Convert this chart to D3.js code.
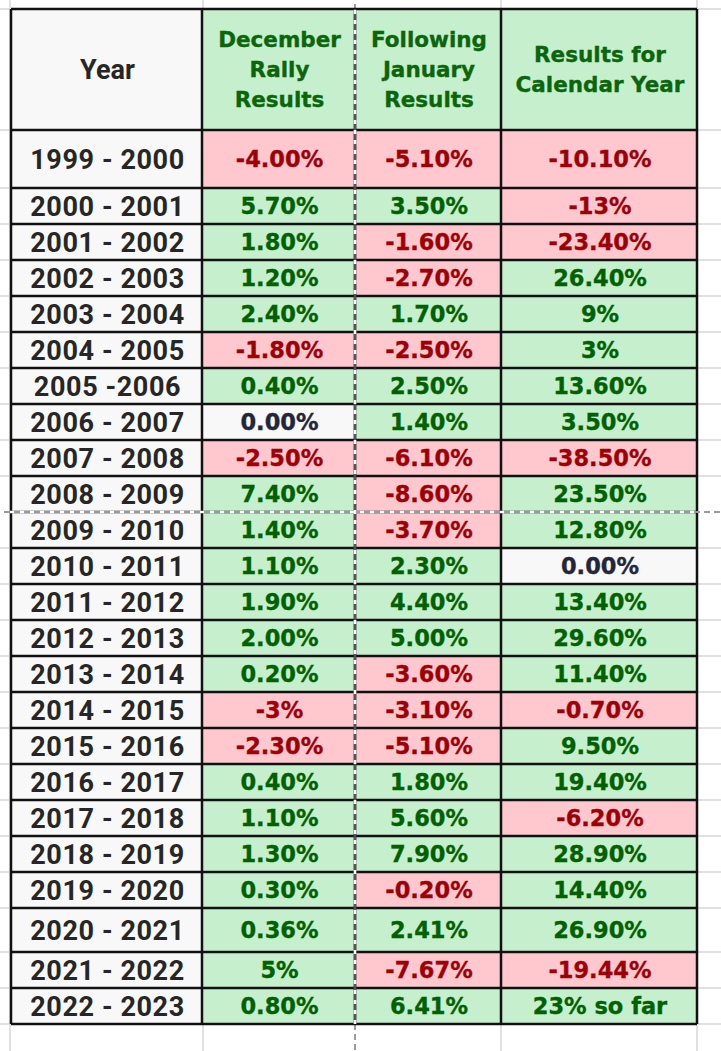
<!DOCTYPE html>
<html>
<head>
<meta charset="utf-8">
<script src="https://cdn.jsdelivr.net/npm/d3@7"></script>
<style>
  html, body { margin: 0; padding: 0; background: #fff; }
  svg { display: block; }
</style>
</head>
<body>
<div id="sheet"></div>
<script>
var years = ["1999 - 2000", "2000 - 2001", "2001 - 2002", "2002 - 2003", "2003 - 2004", "2004 - 2005",
  "2005 -2006", "2006 - 2007", "2007 - 2008", "2008 - 2009", "2009 - 2010", "2010 - 2011",
  "2011 - 2012", "2012 - 2013", "2013 - 2014", "2014 - 2015", "2015 - 2016", "2016 - 2017",
  "2017 - 2018", "2018 - 2019", "2019 - 2020", "2020 - 2021", "2021 - 2022", "2022 - 2023"]
var december = ["-4.00%", "5.70%", "1.80%", "1.20%", "2.40%", "-1.80%", "0.40%", "0.00%", "-2.50%", "7.40%",
  "1.40%", "1.10%", "1.90%", "2.00%", "0.20%", "-3%", "-2.30%", "0.40%", "1.10%", "1.30%",
  "0.30%", "0.36%", "5%", "0.80%"]
var january = ["-5.10%", "3.50%", "-1.60%", "-2.70%", "1.70%", "-2.50%", "2.50%", "1.40%", "-6.10%", "-8.60%",
  "-3.70%", "2.30%", "4.40%", "5.00%", "-3.60%", "-3.10%", "-5.10%", "1.80%", "5.60%", "7.90%",
  "-0.20%", "2.41%", "-7.67%", "6.41%"]
var calendar = ["-10.10%", "-13%", "-23.40%", "26.40%", "9%", "3%", "13.60%", "3.50%", "-38.50%", "23.50%",
  "12.80%", "0.00%", "13.40%", "29.60%", "11.40%", "-0.70%", "9.50%", "19.40%", "-6.20%", "28.90%",
  "14.40%", "26.90%", "-19.44%", "23% so far"]
var headers = [["Year"], ["December", "Rally", "Results"], ["Following", "January", "Results"], ["Results for", "Calendar Year"]]

var W = 721, H = 1051
var colEdges = [11, 202, 355, 501, 697]
var headTop = 9, headBottom = 130
var pageBreakX = 355, pageBreakY = 512

// the first row and the 2020 row are taller in the sheet
var heights = years.map(function(y, i) { return i == 0 ? 58 : (y == "2020 - 2021" ? 44 : 36) })
var tops = []
heights.reduce(function(acc, h) { tops.push(acc); return acc + h }, headBottom)
var tableBottom = tops[tops.length - 1] + heights[heights.length - 1]

var yTop = d3.scaleOrdinal().domain(years).range(tops)
var yH = d3.scaleOrdinal().domain(years).range(heights)
var cols = ["year", "dec", "jan", "cal"]
var xL = d3.scaleOrdinal().domain(cols).range(colEdges.slice(0, 4))
var xR = d3.scaleOrdinal().domain(cols).range(colEdges.slice(1))

var fills = {pos: "#c6efce", neg: "#ffc7ce", zero: "#f8f8f8"}
var inks = {pos: "#006100", neg: "#9c0006", zero: "#23263a"}
function tone(v) {
  var n = parseFloat(v)
  return n < 0 ? "neg" : (n > 0 ? "pos" : "zero")
}

var svg = d3.select("#sheet").append("svg").attr("width", W).attr("height", H)
svg.append("rect").attr("width", W).attr("height", H).attr("fill", "#fff")

// spreadsheet gridlines behind the table
var grid = svg.append("g").attr("stroke", "#e1e1e1").attr("stroke-width", 2)
var rowEdges = [headTop, headBottom].concat(tops.slice(1), [tableBottom])
grid.selectAll("line.h").data(rowEdges).enter().append("line")
  .attr("x1", 0).attr("x2", W).attr("y1", function(d) { return d }).attr("y2", function(d) { return d })
grid.selectAll("line.v").data([10, 203, 501, 697]).enter().append("line")
  .attr("y1", 0).attr("y2", H).attr("x1", function(d) { return d }).attr("x2", function(d) { return d })
svg.append("line").attr("x1", pageBreakX).attr("x2", pageBreakX).attr("y1", 0).attr("y2", H)
  .attr("stroke", "#9a9a9a").attr("stroke-width", 2)

// header cells
svg.selectAll("rect.head").data(cols).enter().append("rect")
  .attr("x", function(d) { return xL(d) }).attr("width", function(d) { return xR(d) - xL(d) })
  .attr("y", headTop).attr("height", headBottom - headTop)
  .attr("fill", function(d) { return d == "year" ? "#f8f8f8" : "#c6efce" })

var rows = years.map(function(y, i) {
  return {year: y, dec: december[i], jan: january[i], cal: calendar[i]}
})

var rowG = svg.selectAll("g.row").data(rows).enter().append("g").attr("class", "row")
rowG.each(function(r) {
  var g = d3.select(this)
  var top = yTop(r.year), h = yH(r.year)
  cols.forEach(function(c) {
    var t = c == "year" ? "zero" : tone(r[c])
    var ink = c == "year" ? "#262626" : inks[t]
    g.append("rect")
      .attr("x", xL(c)).attr("width", xR(c) - xL(c))
      .attr("y", top).attr("height", h)
      .attr("fill", fills[t])
    g.append("text")
      .attr("x", (xL(c) + xR(c)) / 2 + 1)
      .attr("y", top + h / 2)
      .attr("dy", c == "year" ? "0.36em" : "0.37em")
      .attr("text-anchor", "middle")
      .style("font-family", c == "year" ? "Roboto, sans-serif" : "'DejaVu Sans', Verdana, sans-serif")
      .style("font-weight", 700)
      .style("font-size", c == "year" ? "27px" : "22.5px")
      .style("letter-spacing", c == "year" ? "0.6px" : "0px")
      .attr("fill", ink)
      .attr("stroke", c == "year" ? "none" : ink).attr("stroke-width", 0.35)
      .text(r[c])
  })
})

// header labels
headers.forEach(function(lines, i) {
  var c = cols[i]
  var mid = (headTop + headBottom) / 2
  var step = 30
  lines.forEach(function(line, j) {
    svg.append("text")
      .attr("x", (xL(c) + xR(c)) / 2 + 1)
      .attr("y", mid + (j - (lines.length - 1) / 2) * step)
      .attr("dy", "0.36em")
      .attr("text-anchor", "middle")
      .style("font-family", c == "year" ? "Roboto, sans-serif" : "'DejaVu Sans', Verdana, sans-serif")
      .style("font-weight", 700)
      .style("font-size", c == "year" ? "27px" : "21.5px")
      .attr("fill", c == "year" ? "#262626" : "#0b650b")
      .attr("stroke", c == "year" ? "none" : "#0b650b").attr("stroke-width", 0.35)
      .text(line)
  })
})

// table borders
var borders = svg.append("g").attr("stroke", "#111").attr("stroke-width", 2.5)
borders.selectAll("line.h").data(rowEdges).enter().append("line")
  .attr("x1", colEdges[0]).attr("x2", colEdges[4])
  .attr("y1", function(d) { return d }).attr("y2", function(d) { return d })
borders.selectAll("line.v").data(colEdges).enter().append("line")
  .attr("y1", headTop).attr("y2", tableBottom)
  .attr("x1", function(d) { return d }).attr("x2", function(d) { return d })

// page breaks
svg.append("line").attr("x1", 0).attr("x2", W).attr("y1", pageBreakY).attr("y2", pageBreakY)
  .attr("stroke", "#9a9a9a").attr("stroke-width", 2)
svg.append("line").attr("x1", pageBreakX).attr("x2", pageBreakX).attr("y1", headTop).attr("y2", tableBottom)
  .attr("stroke", "#555").attr("stroke-width", 2.5)
var breaks = svg.append("g").attr("stroke", "#fff").attr("stroke-width", 2.6).attr("stroke-dasharray", "4,6")
breaks.append("line").attr("x1", 0).attr("x2", W).attr("y1", pageBreakY).attr("y2", pageBreakY)
breaks.append("line").attr("x1", pageBreakX).attr("x2", pageBreakX).attr("y1", 0).attr("y2", H)
</script>
</body>
</html>
